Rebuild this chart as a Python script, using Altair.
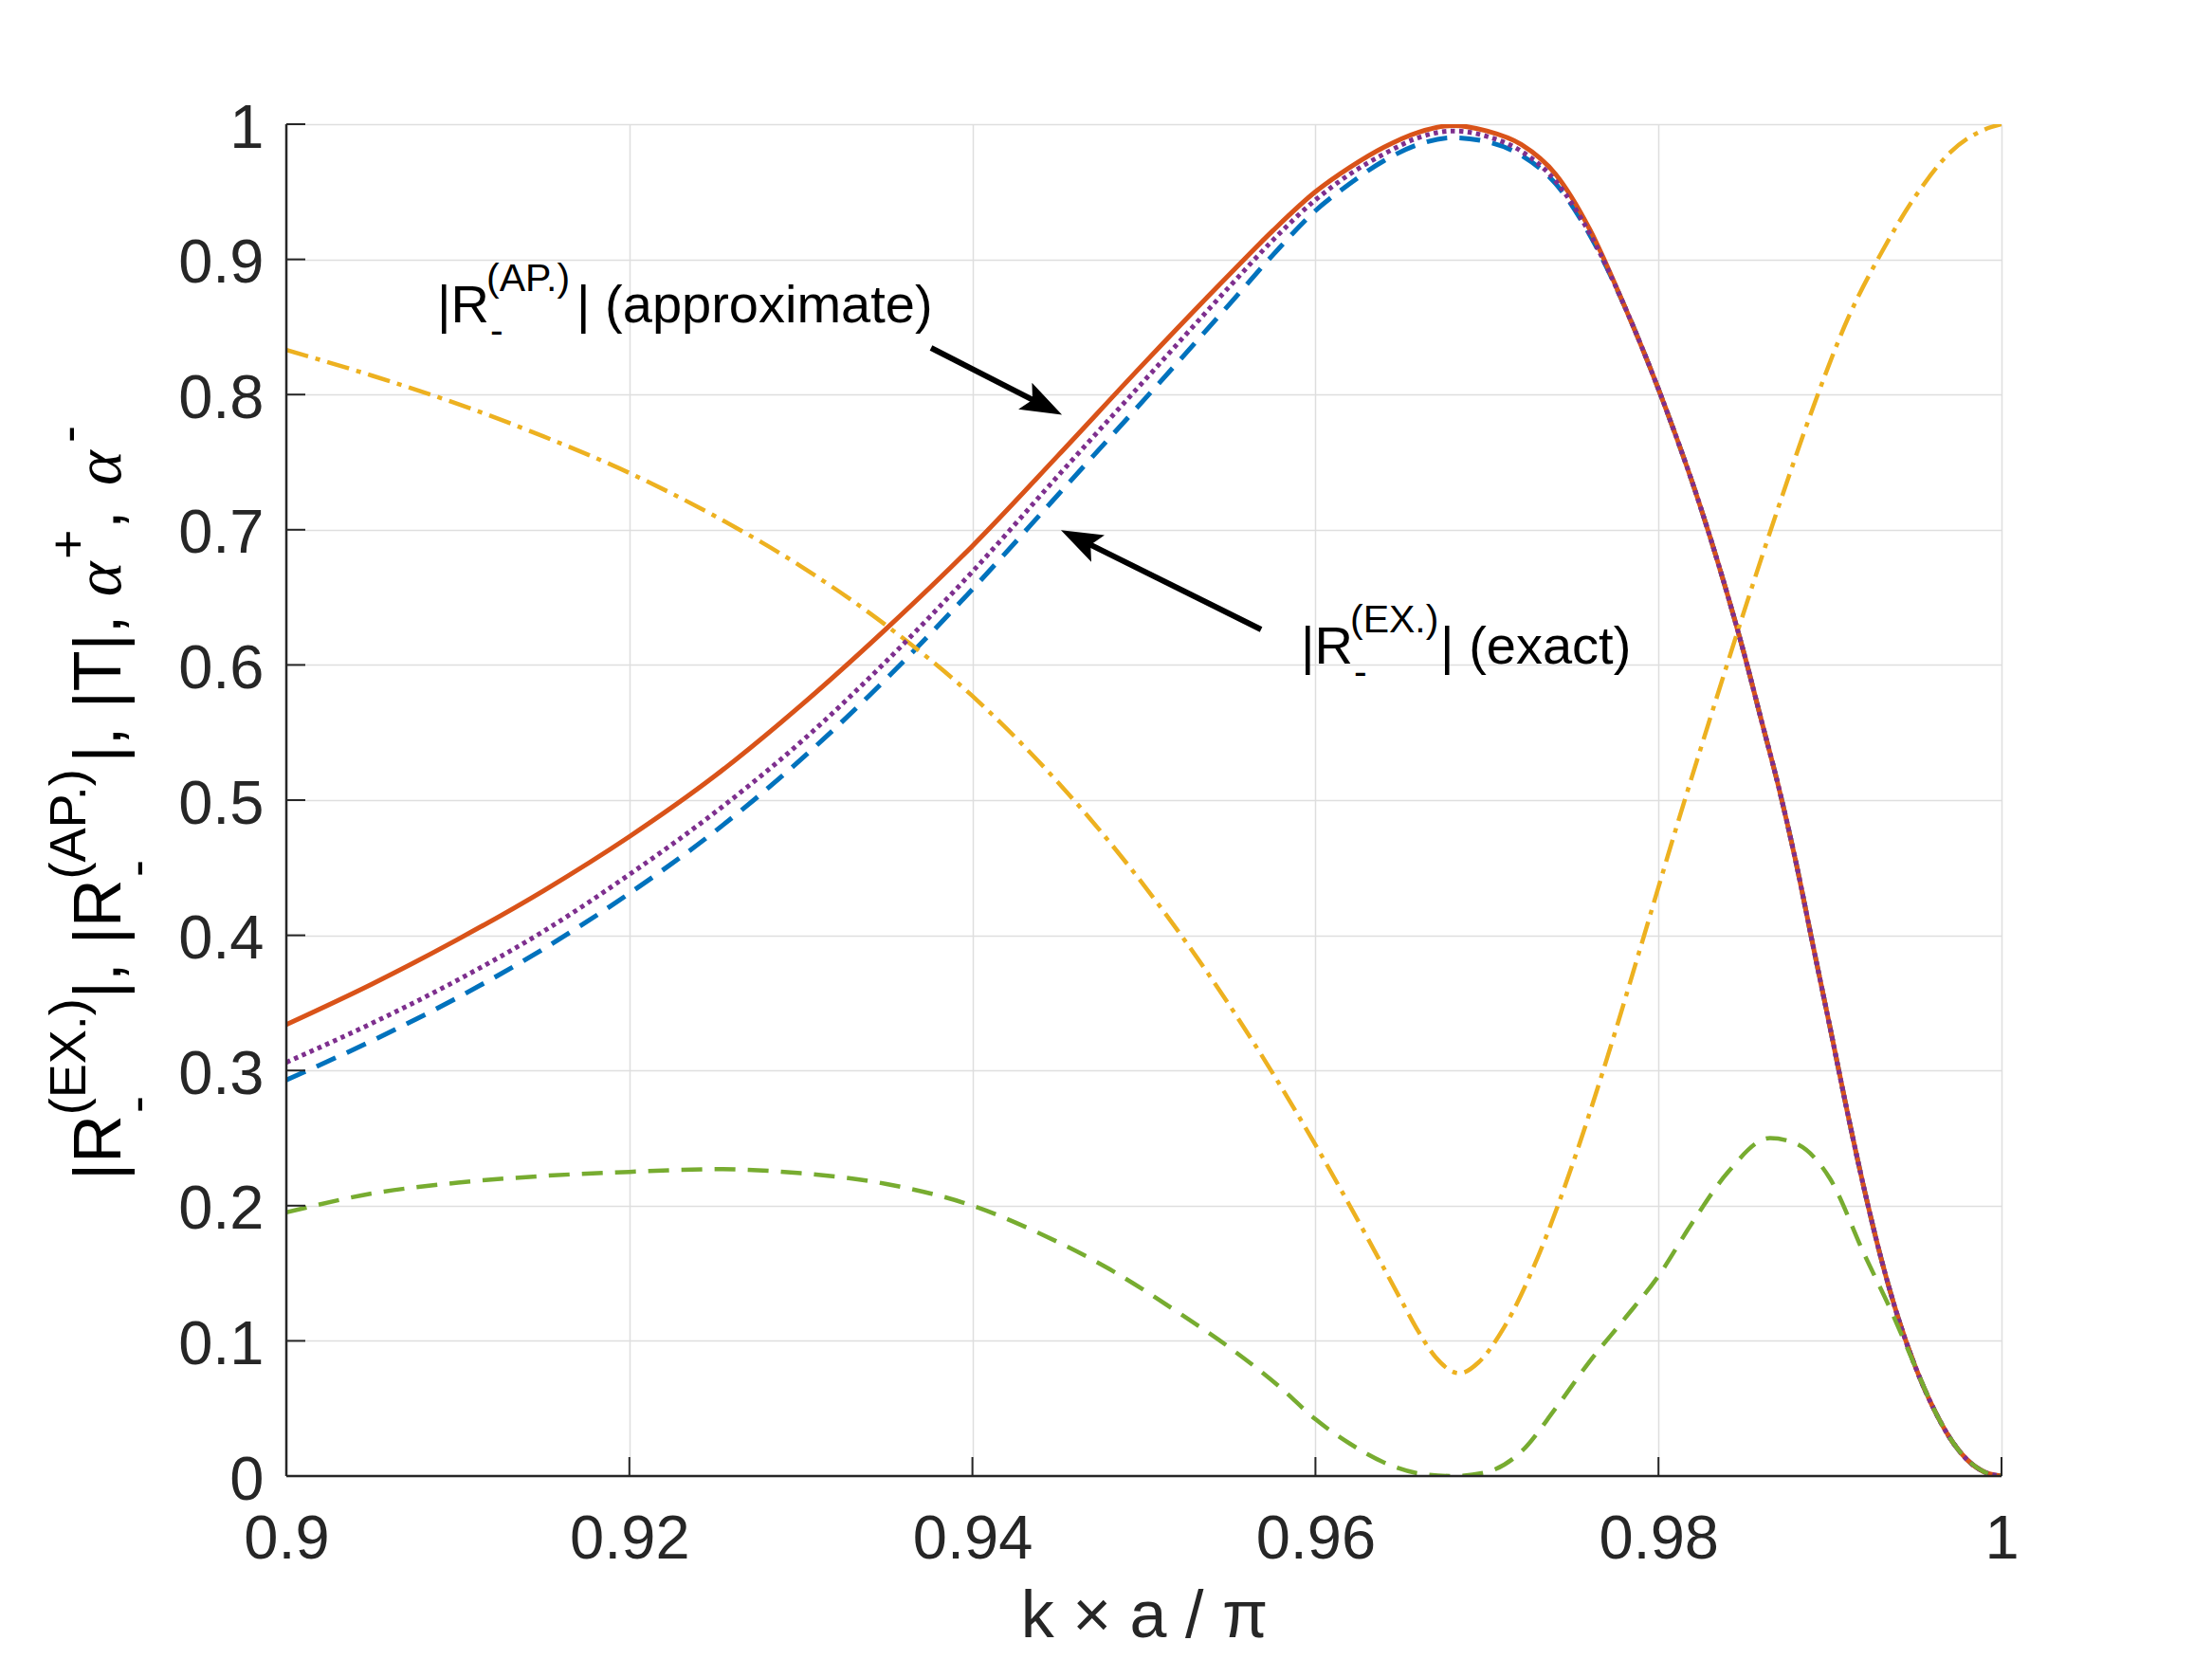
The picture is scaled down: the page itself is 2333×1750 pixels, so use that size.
import altair as alt
import pandas as pd

# ---------------- data ----------------
x_ticks = [0.9, 0.92, 0.94, 0.96, 0.98, 1.0]
y_ticks = [0.0, 0.1, 0.2, 0.3, 0.4, 0.5, 0.6, 0.7, 0.8, 0.9, 1.0]

# right-hand tail shared by the three reflection curves (they coincide there)
x_tail = [0.980, 0.981, 0.982, 0.983, 0.984, 0.985, 0.986, 0.987, 0.988, 0.989, 0.990,
          0.991, 0.992, 0.993, 0.994, 0.995, 0.996, 0.997, 0.998, 0.999, 1.000]
y_tail = [0.804, 0.770, 0.734, 0.695, 0.653, 0.608, 0.559, 0.510, 0.455, 0.393, 0.332,
          0.270, 0.212, 0.160, 0.116, 0.080, 0.051, 0.028, 0.012, 0.003, 0.000]

x_left = [0.900, 0.905, 0.910, 0.915, 0.920, 0.925, 0.930, 0.935, 0.940, 0.945, 0.950,
          0.955, 0.9575, 0.960, 0.962, 0.964, 0.966, 0.968, 0.970, 0.972, 0.974, 0.976, 0.978]

# |R_-^(AP.)| approximate (orange solid)
y_ap = [0.334, 0.364, 0.397, 0.433, 0.473, 0.518, 0.570, 0.627, 0.688, 0.755, 0.823,
        0.889, 0.921, 0.950, 0.968, 0.983, 0.994, 0.999, 0.995, 0.985, 0.963, 0.922, 0.866]
# |R_-^(EX.)| exact (blue dashed)
y_ex = [0.293, 0.322, 0.354, 0.390, 0.431, 0.477, 0.530, 0.590, 0.656, 0.726, 0.796,
        0.867, 0.903, 0.936, 0.956, 0.973, 0.985, 0.990, 0.987, 0.977, 0.956, 0.918, 0.866]
# purple dotted
y_pu = [0.306, 0.335, 0.367, 0.403, 0.445, 0.491, 0.543, 0.603, 0.669, 0.740, 0.810,
        0.880, 0.914, 0.944, 0.963, 0.978, 0.990, 0.995, 0.991, 0.980, 0.958, 0.919, 0.866]

# yellow dash-dot
x_ye = [0.900, 0.905, 0.910, 0.915, 0.920, 0.925, 0.930, 0.935, 0.940, 0.945, 0.950, 0.955,
        0.960, 0.963, 0.965, 0.966, 0.967, 0.9684, 0.9695, 0.971, 0.973, 0.975, 0.977,
        0.979, 0.981, 0.983, 0.985, 0.987, 0.989, 0.991, 0.993, 0.995, 0.997, 0.999, 1.000]
y_ye = [0.833, 0.814, 0.793, 0.769, 0.742, 0.710, 0.673, 0.629, 0.577, 0.513, 0.437, 0.348,
        0.245, 0.177, 0.130, 0.107, 0.088, 0.076, 0.084, 0.110, 0.163, 0.231, 0.309,
        0.393, 0.478, 0.560, 0.640, 0.717, 0.790, 0.855, 0.905, 0.947, 0.979, 0.996, 1.000]

# green dashed
x_gr = [0.900, 0.905, 0.910, 0.915, 0.920, 0.925, 0.930, 0.935, 0.940, 0.944, 0.948, 0.952,
        0.955, 0.958, 0.960, 0.962, 0.964, 0.966, 0.968, 0.970, 0.972, 0.974, 0.976, 0.978,
        0.980, 0.982, 0.984, 0.9865, 0.988, 0.990, 0.992, 0.9935, 0.995, 0.996, 0.997,
        0.998, 0.999, 1.000]
y_gr = [0.195, 0.209, 0.217, 0.222, 0.225, 0.227, 0.224, 0.216, 0.200, 0.179, 0.153, 0.121,
        0.095, 0.065, 0.042, 0.024, 0.010, 0.002, 0.000, 0.003, 0.018, 0.050, 0.085, 0.116,
        0.148, 0.188, 0.224, 0.250, 0.246, 0.220, 0.164, 0.124, 0.080, 0.051, 0.028,
        0.012, 0.003, 0.000]

# annotations (data coordinates)
ann_x = [0.90879, 0.95915]
ann_y = [0.85344, 0.60098]
ann_sup = ["(AP.)", "(EX.)"]
ann_rest = ["| (approximate)", "| (exact)"]

arrow_tail_x = [0.93759, 0.95683]
arrow_tail_y = [0.83450, 0.62623]
arrow_head_x = [0.94415, 0.94624]
arrow_head_y = [0.79194, 0.69292]
arrow_angle = [117.1, 296.4]

# ---------------- styling ----------------
W, H = 1809, 1426
AX = "#262626"
FONT = "Liberation Sans"
BLUE, ORANGE, YELLOW, PURPLE, GREEN = "#0072BD", "#D95319", "#EDB120", "#7E2F8E", "#77AC30"

xscale = alt.Scale(domain=[0.9, 1.0], nice=False, zero=False)
yscale = alt.Scale(domain=[0.0, 1.0], nice=False, zero=False)

xaxis = alt.Axis(values=x_ticks, format=".2~f", grid=True, domain=False, ticks=False, tickSize=0,
                 labelFontSize=65, labelPadding=86, labelBaseline="alphabetic", labelFlush=False,
                 labelColor=AX, labelFont=FONT,
                 title="k × a / π", titleFontSize=70, titleFont=FONT, titleFontWeight="normal",
                 titleColor=AX, titleBaseline="alphabetic", titleY=169)
yaxis = alt.Axis(values=y_ticks, format=".1~f", grid=True, domain=False, ticks=False, tickSize=0,
                 labelFontSize=65, labelPadding=24, labelBaseline="alphabetic", labelOffset=24,
                 labelColor=AX, labelFont=FONT, title=None)


def X(field):
    return alt.X(field, scale=xscale, axis=xaxis)


def Y(field):
    return alt.Y(field, scale=yscale, axis=yaxis)


def line(xs, ys, color, width, dash=None):
    df = pd.DataFrame({"x": xs, "y": ys})
    kw = dict(color=color, strokeWidth=width, interpolate="monotone", clip=True)
    if dash is not None:
        kw["strokeDash"] = dash
    return alt.Chart(df).mark_line(**kw).encode(x=X("x:Q"), y=Y("y:Q"))


blue = line(x_left + x_tail, y_ex + y_tail, BLUE, 5, [22, 13])
orange = line(x_left + x_tail, y_ap + y_tail, ORANGE, 5)
yellow = line(x_ye, y_ye, YELLOW, 4.5, [24, 8, 5, 8])
purple = line(x_left + x_tail, y_pu + y_tail, PURPLE, 5, [4.5, 4.5])
green = line(x_gr, y_gr, GREEN, 4.5, [22, 13])

# axis lines and inward ticks
axis_df = pd.DataFrame({"x": [0.9], "y": [0.0]})
left_axis = alt.Chart(axis_df).mark_rule(color=AX, strokeWidth=2.5).encode(
    x=X("x:Q"), y=alt.value(0), y2=alt.value(H))
bottom_axis = alt.Chart(axis_df).mark_rule(color=AX, strokeWidth=2.5).encode(
    y=Y("y:Q"), x=alt.value(0), x2=alt.value(W))
ytick_rules = alt.Chart(pd.DataFrame({"y": y_ticks})).mark_rule(color=AX, strokeWidth=2).encode(
    y=Y("y:Q"), x=alt.value(0), x2=alt.value(20))
xtick_rules = alt.Chart(pd.DataFrame({"x": x_ticks})).mark_rule(color=AX, strokeWidth=2).encode(
    x=X("x:Q"), y=alt.value(H), y2=alt.value(H - 20))

# arrows
arrow_df = pd.DataFrame({"x": arrow_tail_x, "y": arrow_tail_y,
                         "hx": arrow_head_x, "hy": arrow_head_y, "angle": arrow_angle})
arrow_lines = alt.Chart(arrow_df).mark_rule(color="black", strokeWidth=6).encode(
    x=X("x:Q"), y=Y("y:Q"), x2="hx:Q", y2="hy:Q")
arrow_heads = alt.Chart(arrow_df).mark_point(
    shape="M0,-1L0.72,1L0,0.6L-0.72,1Z", size=1900, filled=True, color="black", opacity=1,
    strokeWidth=0).encode(
    x=X("hx:Q"), y=Y("hy:Q"), angle=alt.Angle("angle:Q", scale=None))

# annotation texts
ann_df = pd.DataFrame({"x": ann_x, "y": ann_y, "sup": ann_sup, "rest": ann_rest})


def ann_piece(field=None, text=None, dx=0, dy=0, size=56):
    kw = dict(align="left", baseline="alphabetic", font=FONT, fontSize=size, color="black", dx=dx, dy=dy)
    if text is not None:
        kw["text"] = text
    enc = dict(x=X("x:Q"), y=Y("y:Q"))
    if field is not None:
        enc["text"] = alt.Text(field + ":N")
    return alt.Chart(ann_df).mark_text(**kw).encode(**enc)


ann_main = ann_piece(text="|R", dx=0, size=56)
ann_sup_t = ann_piece(field="sup", dx=52, dy=-33, size=41)
ann_sub_t = ann_piece(text="-", dx=56, dy=22, size=41)
ann_rest_t = ann_piece(field="rest", dx=147, size=56)

# y-axis title with super/subscripts (rotated pieces)
ylab_pieces = [
    # text, offset along text, dy, size, italic
    ("|R", 0, 0, 70, False),
    ("(EX.)", 68.7, -37, 54, False),
    ("-", 71, 35, 54, False),
    ("|, |R", 191.7, 0, 70, False),
    ("(AP.)", 317.6, -37, 54, False),
    ("-", 320, 35, 54, False),
    ("|, |T|, ", 440.6, 0, 70, False),
    ("α", 615.8, 0, 70, True),
    ("+", 655, -37, 54, False),
    (",", 687, 0, 70, False),
    ("α", 733, 0, 70, True),
    ("-", 778, -37, 54, False),
]
one = pd.DataFrame({"k": [0]})
ylab_layers = []
for txt, d, dy, size, ital in ylab_pieces:
    kw = dict(text=txt, angle=270, align="left", baseline="alphabetic", fontSize=size,
              color="black", dx=d, dy=dy)
    if ital:
        kw["font"] = "Liberation Serif"
        kw["fontStyle"] = "italic"
    else:
        kw["font"] = FONT
    ylab_layers.append(alt.Chart(one).mark_text(**kw).encode(x=alt.value(-175), y=alt.value(1114)))

chart = alt.layer(
    blue, orange, yellow, purple, green,
    left_axis, bottom_axis, ytick_rules, xtick_rules,
    arrow_lines, arrow_heads,
    ann_main, ann_sup_t, ann_sub_t, ann_rest_t,
    *ylab_layers,
).properties(
    width=W, height=H,
    autosize=alt.AutoSizeParams(type="none"),
    padding={"left": 294, "top": 123, "right": 200, "bottom": 183},
    background="white",
).configure_view(stroke=None).configure_axis(
    gridColor="#dedede", gridWidth=1.5, gridOpacity=1
)

chart.save("out.html", embed_options={"renderer": "svg", "actions": False})
